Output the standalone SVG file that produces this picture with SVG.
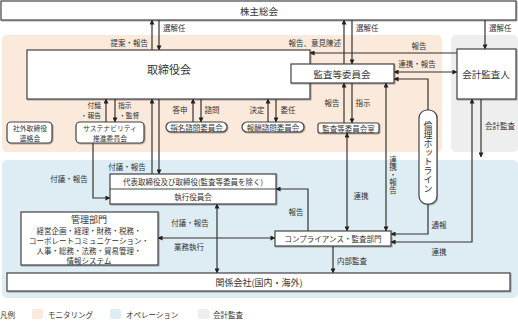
<svg xmlns="http://www.w3.org/2000/svg" width="518" height="322" viewBox="0 0 518 322">
<style>
text{font-family:"Noto Sans CJK JP","Noto Sans",sans-serif;fill:#333;font-size:7.5px;dominant-baseline:central}
.box{fill:#fff;stroke:#444;stroke-width:1.2;filter:url(#sh)}
.c{text-anchor:middle}
.e{text-anchor:end}
.s{font-size:6.8px}
.ln{fill:none;stroke:#333;stroke-width:1.2}
.a{marker-end:url(#ah)}
.b{marker-start:url(#ah);marker-end:url(#ah)}
.vt{writing-mode:vertical-rl;text-anchor:middle;dominant-baseline:auto}
</style>
<defs>
<marker id="ah" viewBox="0 0 6 6" refX="5.5" refY="3" markerWidth="5" markerHeight="5" markerUnits="userSpaceOnUse" orient="auto-start-reverse"><path d="M0,0 L6,3 L0,6 z" fill="#222"/></marker>
<filter id="sh" x="-5%" y="-5%" width="110%" height="120%"><feDropShadow dx="0.8" dy="0.8" stdDeviation="0.4" flood-color="#000" flood-opacity="0.35"/></filter>
</defs>
<g id="backgrounds">
<rect x="2" y="35" width="440" height="117" rx="5" fill="#fbe9dc"/>
<rect x="451" y="35" width="67" height="117" rx="5" fill="#eeeeee"/>
<rect x="2" y="160" width="516" height="138" rx="5" fill="#ddedf3"/>
</g>
<g id="connectors">
<path class="ln a" d="M152,50 V20"/>
<path class="ln a" d="M159,20 V50"/>
<path class="ln a" d="M344,64 V20"/>
<path class="ln a" d="M352,20 V64"/>
<path class="ln a" d="M485,20 V49"/>
<path class="ln a" d="M457,53 H310"/>
<path class="ln b" d="M394,72 H457"/>
<path class="ln a" d="M291,69 H195"/>
<path class="ln a" d="M428,110 V79 H394"/>
<path class="ln a" d="M152,174 V99"/>
<path class="ln a" d="M159,99 V174"/>
<path class="ln a" d="M106,122 V99"/>
<path class="ln a" d="M115,99 V122"/>
<path class="ln a" d="M193,122 V99"/>
<path class="ln a" d="M201,99 V122"/>
<path class="ln a" d="M268,122 V99"/>
<path class="ln a" d="M276,99 V122"/>
<path class="ln a" d="M344,123 V83"/>
<path class="ln a" d="M352,83 V123"/>
<path class="ln b" d="M347,133 V231"/>
<path class="ln b" d="M386,83 V231"/>
<path class="ln a" d="M93,143 V198 H110"/>
<path class="ln a" d="M308,231 V189 H276"/>
<path class="ln a" d="M428,204 V234 H391"/>
<path class="ln b" d="M391,242 H472 V99"/>
<path class="ln a" d="M481,99 V157"/>
<path class="ln b" d="M158,238 H275"/>
<path class="ln b" d="M217,204 V273"/>
<path class="ln a" d="M333,246 V273"/>
</g>
<g id="labels">
<text x="148" y="42" class="e">提案・報告</text>
<text x="163" y="27">選解任</text>
<text x="341" y="42" class="e">報告、意見陳述</text>
<text x="356" y="27">選解任</text>
<text x="489" y="27">選解任</text>
<text x="419" y="45" class="c">報告</text>
<text x="417" y="63" class="c">連携・報告</text>
<text x="242" y="62" class="c">監査等</text>
<text x="163" y="80.5">選定・解職／監督</text>
<text x="163" y="90.5">重要な業務執行の委任</text>
<text x="101" y="105" class="e s">付議</text>
<text x="101" y="115" class="e s">・報告</text>
<text x="118" y="105" class="s">指示</text>
<text x="119" y="115" class="s">・監督</text>
<text x="180" y="109" class="c">答申</text>
<text x="212" y="109" class="c">諮問</text>
<text x="257" y="109" class="c">決定</text>
<text x="288" y="109" class="c">委任</text>
<text x="332" y="102" class="c">報告</text>
<text x="363" y="102" class="c">指示</text>
<text x="500" y="125" class="c">会計監査</text>
<text x="127" y="166" class="c">付議・報告</text>
<text x="69" y="178" class="c">付議・報告</text>
<text x="296" y="211" class="c">報告</text>
<text x="361" y="195" class="c">連携</text>
<text x="393" y="175" class="vt">連携・報告</text>
<text x="439" y="224" class="c">通報</text>
<text x="439" y="251" class="c">連携</text>
<text x="352" y="260" class="c">内部監査</text>
<text x="190" y="222" class="c">付議・報告</text>
<text x="189" y="246" class="c">業務執行</text>
</g>
<g id="shareholders"><rect class="box" x="1" y="1" width="515" height="19"/><text x="259" y="11" class="c" style="font-size:9.5px">株主総会</text></g>
<g id="board"><rect class="box" x="27" y="50" width="283" height="49"/><text x="169" y="69" class="c" style="font-size:11px">取締役会</text></g>
<g id="audit-committee"><rect class="box" x="291" y="64" width="103" height="19"/><text x="342" y="74" class="c" style="font-size:9.5px">監査等委員会</text></g>
<g id="accounting-auditor"><rect class="box" x="457" y="49" width="59" height="50"/><text x="486" y="74" class="c" style="font-size:9.5px">会計監査人</text></g>
<g id="outside-directors"><rect class="box" x="7" y="122" width="45" height="21" rx="4"/><text x="30" y="127.5" class="c s">社外取締役</text><text x="30" y="137.5" class="c s">連絡会</text></g>
<g id="sustainability"><rect class="box" x="76" y="122" width="68" height="21" rx="4"/><text x="110" y="127.5" class="c s">サステナビリティ</text><text x="110" y="137.5" class="c s">推進委員会</text></g>
<g id="nomination"><rect class="box" x="166" y="122" width="61" height="10" rx="5"/><text x="196.5" y="127" class="c">指名諮問委員会</text></g>
<g id="compensation"><rect class="box" x="242" y="122" width="62" height="10" rx="5"/><text x="273" y="127" class="c">報酬諮問委員会</text></g>
<g id="audit-office"><rect class="box" x="318" y="123" width="61" height="10" rx="2"/><text x="348.5" y="128" class="c">監査等委員会室</text></g>
<g id="hotline"><rect class="box" x="419" y="110" width="18" height="94" rx="8"/><text x="428" y="157" class="c" style="writing-mode:vertical-rl;font-size:9px;dominant-baseline:central">倫理ホットライン</text></g>
<g id="representative"><rect class="box" x="110" y="174" width="166" height="30"/><line x1="110" y1="189" x2="276" y2="189" stroke="#444" stroke-width="1"/><text x="193" y="181.5" class="c">代表取締役及び取締役(監査等委員を除く)</text><text x="193" y="196.5" class="c">執行役員会</text></g>
<g id="admin"><rect class="box" x="21" y="212" width="137" height="53"/><text x="89" y="219" class="c" style="font-size:9px">管理部門</text><text x="89" y="230" class="c">経営企画・経理・財務・税務・</text><text x="89" y="240" class="c">コーポレートコミュニケーション・</text><text x="89" y="250" class="c">人事・総務・法務・貿易管理・</text><text x="89" y="260" class="c">情報システム</text></g>
<g id="compliance"><rect class="box" x="275" y="231" width="116" height="15"/><text x="333" y="238.5" class="c">コンプライアンス・監査部門</text></g>
<g id="affiliates"><rect class="box" x="7" y="273" width="503" height="18"/><text x="259" y="282" class="c" style="font-size:9px">関係会社(国内・海外)</text></g>
<g id="legend">
<text x="0" y="314">凡例</text>
<rect x="32" y="309" width="11" height="10" rx="2" fill="#fbe9dc"/>
<text x="48" y="314">モニタリング</text>
<rect x="110" y="309" width="11" height="10" rx="2" fill="#ddedf3"/>
<text x="126" y="314">オペレーション</text>
<rect x="198" y="309" width="11" height="10" rx="2" fill="#eeeeee"/>
<text x="213" y="314">会計監査</text>
</g>
</svg>
